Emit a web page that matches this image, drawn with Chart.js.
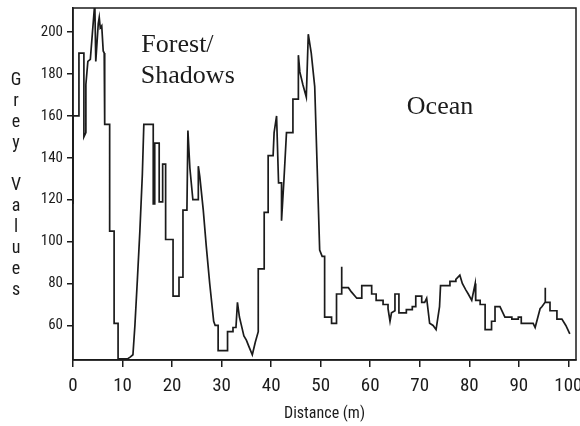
<!DOCTYPE html>
<html>
<head>
<meta charset="utf-8">
<title>Grey value profile</title>
<script src="https://cdn.jsdelivr.net/npm/chart.js@4/dist/chart.umd.min.js"></script>
<style>
  html, body { margin: 0; padding: 0; background: #fff; }
  canvas { display: block; }
</style>
</head>
<body>
<canvas id="profile" width="580" height="426"></canvas>
<script>
// Transect profile: distance along the line (m) and the grey value sampled there.
const distance = [
  0, 0, 1.2, 1.2, 2.2, 2.2, 2.6, 2.6, 3.0, 3.5, 3.9, 4.4, 4.6, 5.1, 5.3, 5.5, 5.8, 6.1, 6.3, 6.4,
  7.4, 7.4, 8.3, 8.3, 9.1, 9.1, 11.0, 11.6, 12.1, 12.5, 13.0, 13.5, 14.0, 14.3, 16.2, 16.2, 16.5, 16.5,
  17.4, 17.4, 18.1, 18.1, 18.7, 18.7, 20.2, 20.2, 21.4, 21.4, 22.2, 22.2, 23.0, 23.2, 23.6, 24.2,
  25.3, 25.3, 25.6, 26.3, 26.9, 27.6, 28.4, 28.7, 29.3, 29.3, 31.2, 31.2, 32.3, 32.3, 32.9, 33.2,
  33.6, 34.0, 34.5, 35.0, 35.5, 36.2, 36.8, 37.4, 37.4, 38.6, 38.6, 39.4, 39.4, 40.4, 40.6, 41.1,
  41.5, 42.1, 42.1, 42.6, 43.1, 44.4, 44.4, 45.5, 45.5, 45.8, 46.4, 47.1, 47.5, 48.1, 48.8, 49.3,
  49.8, 50.3, 50.8, 50.8, 52.2, 52.2, 53.2, 53.2, 54.2, 54.2, 54.3, 55.6, 56.2, 57.3, 58.3, 58.3,
  60.3, 60.3, 61.2, 61.2, 62.6, 62.6, 63.6, 63.6, 64.0, 64.3, 65.0, 65.0, 65.8, 65.8, 67.3, 67.3,
  68.5, 68.5, 69.2, 69.2, 70.4, 70.4, 71.0, 71.4, 72.0, 72.7, 73.3, 74.0, 74.2, 76.1, 76.1, 77.3,
  77.3, 78.1, 78.6, 79.3, 79.8, 80.5, 81.2, 81.3, 82.2, 82.2, 83.2, 83.2, 84.5, 84.5, 85.2, 85.2,
  86.2, 87.2, 88.6, 88.6, 89.9, 89.9, 90.5, 90.5, 92.9, 93.3, 94.3, 94.7, 95.3, 95.3, 95.4, 96.3,
  96.3, 97.7, 97.7, 98.7, 99.5, 100.3
];
const greyValue = [
  118, 160, 160, 190, 190, 150, 152, 175, 186, 187, 199, 214, 186, 204, 207, 202, 203, 191, 190, 156,
  156, 105, 105, 61, 61, 44, 44, 45, 46, 60, 82, 105, 132, 156, 156, 118, 118, 147,
  147, 119, 119, 137, 137, 101, 101, 74, 74, 83, 83, 115, 115, 153, 135, 120,
  120, 136, 131, 115, 98, 80, 62, 60, 60, 48, 48, 57, 57, 59, 59, 71,
  64, 60, 55, 53, 50, 46, 52, 57, 87, 87, 114, 114, 141, 141, 152, 160,
  128, 128, 110, 130, 152, 152, 168, 168, 189, 181, 175, 169, 199, 190, 174, 135,
  96, 93, 93, 64, 64, 61, 61, 75, 75, 88, 78, 78, 76, 73, 73, 79,
  79, 75, 75, 72, 72, 70, 70, 68, 62, 66, 67, 75, 75, 66, 66, 67.5,
  67.5, 69, 69, 74, 74, 71, 71, 73, 61, 60, 58, 69, 79, 79, 81, 81,
  82, 84, 80, 77, 75, 72, 80, 72, 72, 70, 70, 58, 58, 62, 62, 69,
  69, 64, 64, 63, 63, 64, 64, 61, 61, 59, 68, 69, 71, 78, 71, 71,
  67, 67, 63, 63, 60, 56
];

const xTickValues = [0, 10, 20, 30, 40, 50, 60, 70, 80, 90, 100];
const yTickValues = [60, 80, 100, 120, 140, 160, 180, 200];
const yTitleLetters = ['G', 'r', 'e', 'y', '', 'V', 'a', 'l', 'u', 'e', 's'];
const xTitle = 'Distance (m)';
const regionNotes = ['Forest/', 'Shadows', 'Ocean'];

const narrow = "'Roboto Condensed', 'DejaVu Sans Condensed', sans-serif";
const serif = "'Liberation Serif', 'Times New Roman', serif";
const ink = '#1b1b1b';

// Box round the plot area, the stacked y title and the region notes.
const decorations = {
  id: 'decorations',
  beforeDatasetsDraw(chart) {
    const { ctx, chartArea: a } = chart;
    ctx.save();
    ctx.strokeStyle = ink;
    ctx.lineWidth = 1.5;
    ctx.strokeRect(a.left, a.top, a.right - a.left, a.bottom - a.top);
    ctx.restore();
  },
  afterDraw(chart) {
    const { ctx } = chart;
    const xs = chart.scales.x, ys = chart.scales.y;
    ctx.save();
    ctx.fillStyle = ink;
    ctx.textAlign = 'center';
    ctx.textBaseline = 'alphabetic';
    ctx.font = "18px " + narrow;
    yTitleLetters.forEach((ch, i) => {
      if (ch) ctx.fillText(ch, 16, 85 + i * 21);
    });
    ctx.font = "26px " + serif;
    ctx.textAlign = 'left';
    const notePos = [[13.8, 190.5], [13.7, 175.5], [67.4, 161]];
    regionNotes.forEach((t, i) => {
      const [d, v] = notePos[i];
      ctx.fillText(t, xs.getPixelForValue(d), ys.getPixelForValue(v));
    });
    ctx.restore();
  }
};

const points = distance.map((d, i) => ({ x: d, y: greyValue[i] }));

new Chart(document.getElementById('profile'), {
  type: 'line',
  data: {
    datasets: [{
      data: points,
      borderColor: ink,
      borderWidth: 1.7,
      pointRadius: 0,
      tension: 0,
      fill: false
    }]
  },
  options: {
    responsive: false,
    animation: false,
    events: [],
    layout: { padding: { left: 0, right: 4, top: 8, bottom: 0 } },
    plugins: { legend: { display: false }, tooltip: { enabled: false } },
    scales: {
      x: {
        type: 'linear',
        min: 0,
        max: 101.55,
        afterBuildTicks(scale) { scale.ticks = xTickValues.map(v => ({ value: v })); },
        afterFit(scale) {
          scale.height = 66;
          scale.paddingLeft = 0; scale.paddingRight = 0;
        },
        grid: { display: true, drawOnChartArea: false, drawTicks: true, tickLength: 7, color: ink, lineWidth: 1.5 },
        border: { display: true, color: ink, width: 1.5 },
        ticks: {
          color: ink,
          font: { family: narrow, size: 19 },
          padding: 8,
          maxRotation: 0,
          autoSkip: false,
          callback: v => String(v)
        },
        title: {
          display: true,
          text: xTitle,
          color: ink,
          font: { family: narrow, size: 16 },
          padding: { top: 0, bottom: 2 }
        }
      },
      y: {
        type: 'linear',
        min: 43.5,
        max: 211.5,
        afterBuildTicks(scale) { scale.ticks = yTickValues.map(v => ({ value: v })); },
        afterFit(scale) {
          scale.width = 73;
          scale.paddingTop = 0; scale.paddingBottom = 0;
        },
        grid: { display: true, drawOnChartArea: false, drawTicks: true, tickLength: 6, color: ink, lineWidth: 1.5 },
        border: { display: true, color: ink, width: 1.5 },
        ticks: {
          color: ink,
          font: { family: narrow, size: 15 },
          padding: 4,
          autoSkip: false,
          callback: v => String(v)
        }
      }
    }
  },
  plugins: [decorations]
});
</script>
</body>
</html>
